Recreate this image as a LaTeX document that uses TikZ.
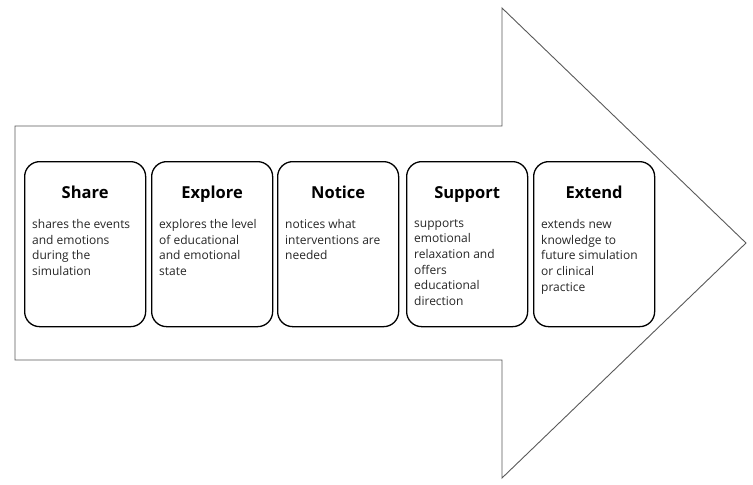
\documentclass[tikz,border=0pt]{standalone}
\usepackage{fontspec}
\setmainfont{Open Sans}
\begin{document}
\begin{tikzpicture}[x=1pt,y=-1pt,
  stagebox/.style={draw=black,line width=1.3pt,rounded corners=15pt,minimum width=121pt,minimum height=165pt,inner sep=0pt,anchor=north west},
  stagetitle/.style={font=\fontsize{16.5}{18}\selectfont\bfseries,anchor=base,inner sep=0pt},
  stagetext/.style={font=\fontsize{12}{15.7}\selectfont,align=left,anchor=north west,inner sep=0pt,text=black!85}]
\useasboundingbox (0,0) rectangle (753,485);
\draw[draw=black!65,line width=0.9pt,line join=miter] (15,126) -- (502,126) -- (502,8) -- (746,243) -- (502,478) -- (502,360) -- (15,360) -- cycle;
\node[stagebox] (b1) at (24,161) {};
\node[stagebox] (b2) at (151,161) {};
\node[stagebox] (b3) at (277,161) {};
\node[stagebox] (b4) at (406,161) {};
\node[stagebox] (b5) at (533,161) {};
\foreach \b/\t in {b1/Share,b2/Explore,b3/Notice,b4/Support,b5/Extend}{
  \node[stagetitle] (\b t) at ([yshift=-37pt]\b.north) {\t};
}
\node[stagetext] (b1x) at ([xshift=8pt,yshift=-58pt]b1.north west) {shares the events\\and emotions\\during the\\simulation};
\node[stagetext] (b2x) at ([xshift=8pt,yshift=-58pt]b2.north west) {explores the level\\of educational\\and emotional\\state};
\node[stagetext] (b3x) at ([xshift=8pt,yshift=-58pt]b3.north west) {notices what\\interventions are\\needed};
\node[stagetext] (b4x) at ([xshift=8pt,yshift=-58pt]b4.north west) {supports\\emotional\\relaxation and\\offers\\educational\\direction};
\node[stagetext] (b5x) at ([xshift=8pt,yshift=-58pt]b5.north west) {extends new\\knowledge to\\future simulation\\or clinical\\practice};
\end{tikzpicture}
\end{document}
